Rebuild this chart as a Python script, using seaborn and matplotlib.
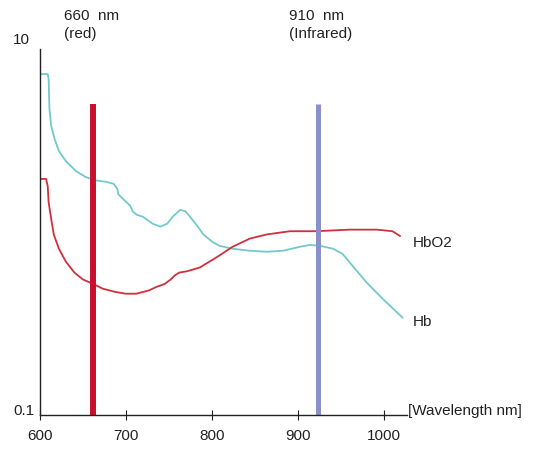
import numpy as np
import pandas as pd
import matplotlib.pyplot as plt
import seaborn as sns

# absorption curves
hb_wl = [600, 609, 610, 611, 613, 617, 622, 630, 642, 653, 663, 677, 686, 690,
         691, 697, 705, 708, 713, 720, 731, 740, 748, 755, 763, 769, 774, 783,
         790, 801, 809, 824, 844, 864, 883, 902, 914, 926, 941, 952, 964, 980,
         999, 1022]
hb_val = [7.3, 7.3, 6.86, 4.7, 3.8, 3.22, 2.77, 2.44, 2.15, 2.0, 1.92, 1.88, 1.83, 1.72,
          1.61, 1.51, 1.39, 1.29, 1.24, 1.21, 1.11, 1.07, 1.11, 1.22, 1.32, 1.30, 1.22, 1.08,
          0.97, 0.88, 0.84, 0.81, 0.79, 0.78, 0.79, 0.83, 0.85, 0.84, 0.81, 0.76, 0.65, 0.53,
          0.43, 0.34]

hbo2_wl = [600, 607, 609, 610, 613, 616, 622, 630, 640, 650, 662, 673, 688, 700,
           712, 727, 735, 745, 752, 757, 762, 771, 786, 806, 824, 844, 864, 891,
           922, 960, 992, 1010, 1019]
hbo2_val = [1.95, 1.95, 1.78, 1.46, 1.18, 0.97, 0.81, 0.69, 0.60, 0.55, 0.52, 0.49, 0.47, 0.46,
            0.46, 0.48, 0.50, 0.52, 0.55, 0.58, 0.60, 0.61, 0.64, 0.73, 0.83, 0.92, 0.97, 1.01,
            1.01, 1.03, 1.03, 1.01, 0.95]

# LED wavelengths (drawn as bars)
led_wl = [662, 924]
led_top = 5.0
led_colors = ['#c8102e', '#8a90c8']
led_labels = ['660  nm\n(red)', '910  nm\n(Infrared)']

x_ticks = [600, 700, 800, 900, 1000]

df = pd.concat([
    pd.DataFrame({'wl': hb_wl, 'val': hb_val, 'curve': 'Hb'}),
    pd.DataFrame({'wl': hbo2_wl, 'val': hbo2_val, 'curve': 'HbO2'}),
])

sns.set_style('ticks')
plt.rcParams['font.family'] = ['Liberation Sans', 'DejaVu Sans']

fig = plt.figure(figsize=(5.49, 4.52), dpi=100)
ax = fig.add_axes([40 / 549, 36 / 452, 367 / 549, 366 / 452])

sns.lineplot(data=df, x='wl', y='val', hue='curve',
             palette={'Hb': '#72c9cd', 'HbO2': '#d22f3c'},
             linewidth=1.3, legend=False, ax=ax, sort=False)

ax.vlines(led_wl[0], 0.1, led_top, color=led_colors[0], linewidth=4.3)
ax.vlines(led_wl[1], 0.1, led_top, color=led_colors[1], linewidth=3.6)

ax.set_yscale('log')
ax.set_ylim(0.1, 10)
ax.set_xlim(600, 1027)
ax.yaxis.set_minor_locator(plt.NullLocator())
ax.set_yticks([])
ax.set_xticks(x_ticks)
ax.set_xticklabels([str(t) for t in x_ticks])
ax.tick_params(axis='x', direction='inout', length=7, width=0.8, pad=6,
               labelsize=11, colors='#222222')
ax.set_xlabel('')
ax.set_ylabel('')

for s in ['top', 'right']:
    ax.spines[s].set_visible(False)
for s in ['left', 'bottom']:
    ax.spines[s].set_color('#222222')
    ax.spines[s].set_linewidth(1.0)

txt = dict(fontsize=11, color='#222222')
fig.text(13 / 549, 1 - 40 / 452, '10', va='center', ha='left', **txt)
fig.text(13 / 549, 1 - 411 / 452, '0.1', va='center', ha='left', **txt)
fig.text(64 / 549, 1 - 9 / 452, led_labels[0], va='top', ha='left', linespacing=1.35, **txt)
fig.text(289 / 549, 1 - 9 / 452, led_labels[1], va='top', ha='left', linespacing=1.35, **txt)
fig.text(413 / 549, 1 - 243 / 452, 'HbO2', va='center', ha='left', **txt)
fig.text(413 / 549, 1 - 322 / 452, 'Hb', va='center', ha='left', **txt)
fig.text(408 / 549, 1 - 411 / 452, '[Wavelength nm]', va='center', ha='left', **txt)

plt.savefig('out.png', dpi=100)
